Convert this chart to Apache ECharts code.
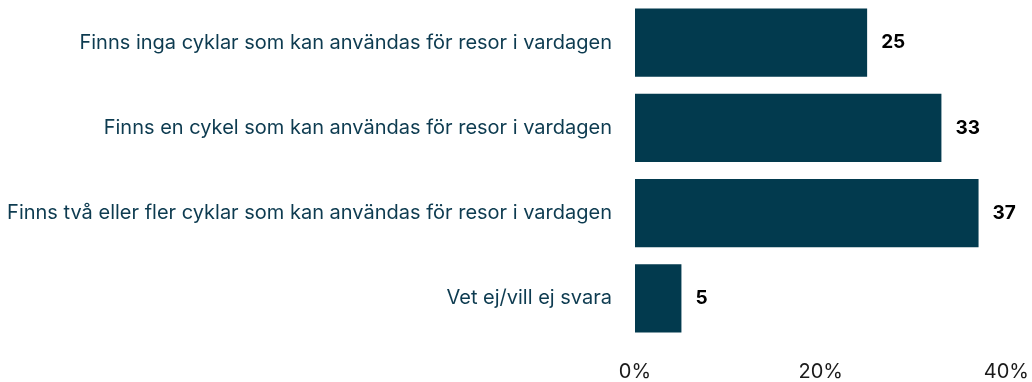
<!DOCTYPE html>
<html>
<head>
<meta charset="utf-8">
<script src="https://cdn.jsdelivr.net/npm/echarts@6/dist/echarts.min.js"></script>
<style>
  html, body { margin: 0; padding: 0; background: #ffffff; }
  #chart { width: 1032px; height: 382px; }
</style>
</head>
<body>
<div id="chart"></div>
<script>
// Survey answers: number of bikes in the household usable for everyday trips
const categories = [
  'Finns inga cyklar som kan användas för resor i vardagen',
  'Finns en cykel som kan användas för resor i vardagen',
  'Finns två eller fler cyklar som kan användas för resor i vardagen',
  'Vet ej/vill ej svara'
];
const values = [25, 33, 37, 5];
const xTicks = [0, 20, 40];

const chart = echarts.init(document.getElementById('chart'), null, { renderer: 'canvas' });
chart.setOption({
  animation: false,
  grid: { left: 635, right: 24, top: 0, bottom: 41, containLabel: false },
  xAxis: {
    type: 'value',
    min: xTicks[0],
    max: xTicks[xTicks.length - 1],
    interval: xTicks[1] - xTicks[0],
    axisLine: { show: false },
    axisTick: { show: false },
    splitLine: { show: false },
    axisLabel: {
      formatter: v => v + '%',
      color: '#1a1a1a',
      fontFamily: 'Inter',
      fontSize: 20,
      margin: 21
    }
  },
  yAxis: {
    type: 'category',
    inverse: true,
    data: categories,
    axisLine: { show: false },
    axisTick: { show: false },
    axisLabel: {
      color: '#0d3b50',
      fontFamily: 'Inter',
      fontSize: 20,
      letterSpacing: -0.4,
      margin: 23
    }
  },
  series: [{
    type: 'bar',
    data: values,
    barCategoryGap: '20%',
    itemStyle: { color: '#023a4e' },
    label: {
      show: true,
      position: 'right',
      distance: 14,
      color: '#000000',
      fontFamily: 'Inter',
      fontWeight: 'bold',
      fontSize: 19
    }
  }]
});
</script>
</body>
</html>
